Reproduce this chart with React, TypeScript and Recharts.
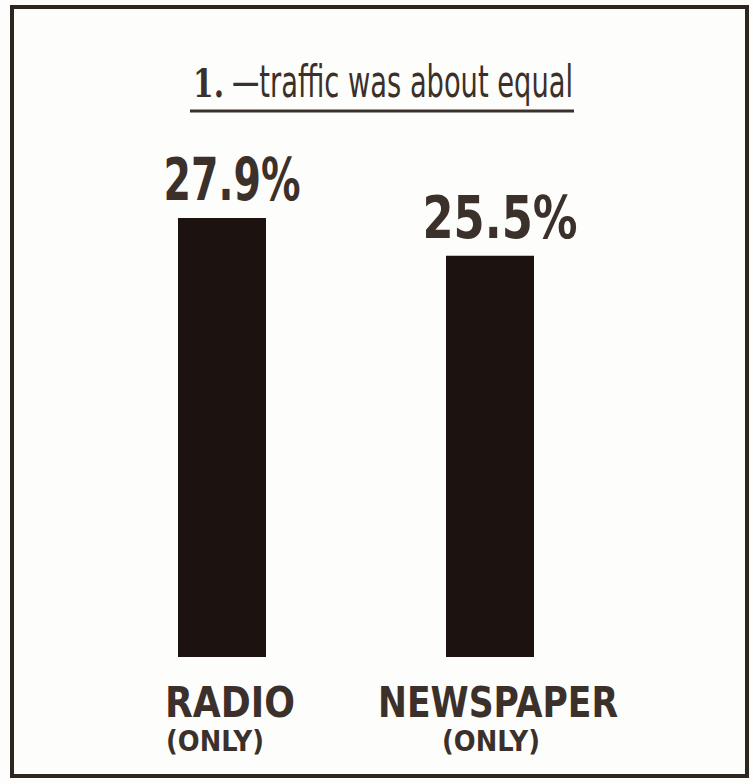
import React from "react";
import { BarChart, Bar, XAxis, YAxis, LabelList } from "recharts";

// media shares of traffic
const categories = ["RADIO", "NEWSPAPER"];
const subLabels = ["(ONLY)", "(ONLY)"];
const shares = [27.9, 25.5];
const valueLabels = ["27.9%", "25.5%"];

const data = categories.map((name, i) => ({
  name,
  sub: subLabels[i],
  value: shares[i],
  label: valueLabels[i],
}));

const INK = "#3b302a";
const BAR = "#1c120f";

const CategoryTick = (props: any) => {
  const { x, y, payload, index } = props;
  const item = data[index];
  const mainW = item.name.length > 6 ? 240 : 130;
  const subDx = item.name.length > 6 ? 0 : -8;
  return (
    <g>
      <text
        x={x + 8}
        y={y + 52}
        textAnchor="middle"
        fill={INK}
        fontFamily="'DejaVu Sans', sans-serif"
        fontWeight="bold"
        fontSize={42}
        textLength={mainW}
        lengthAdjust="spacingAndGlyphs"
      >
        {payload.value}
      </text>
      <text
        x={x + subDx + 1}
        y={y + 86}
        textAnchor="middle"
        fill={INK}
        fontFamily="'DejaVu Sans', sans-serif"
        fontWeight="bold"
        fontSize={28}
        textLength={98}
        lengthAdjust="spacingAndGlyphs"
      >
        {item.sub}
      </text>
    </g>
  );
};

const ValueLabel = (props: any) => {
  const { x, y, width, index } = props;
  const w = index === 0 ? 137 : 155;
  return (
    <text
      x={x + width / 2 + 10}
      y={y - 18}
      textAnchor="middle"
      fill={INK}
      fontFamily="'DejaVu Sans', sans-serif"
      fontWeight="bold"
      fontSize={58}
      textLength={w}
      lengthAdjust="spacingAndGlyphs"
    >
      {data[index].label}
    </text>
  );
};

export default function App() {
  return (
    <div
      style={{
        position: "absolute",
        left: 0,
        top: 0,
        width: 753,
        height: 784,
        background: "#fdfdfb",
      }}
    >
      <svg
        width={753}
        height={784}
        style={{ position: "absolute", left: 0, top: 0 }}
      >
        <rect
          x={12}
          y={7}
          width={735}
          height={769}
          fill="none"
          stroke="#2e2420"
          strokeWidth={4}
        />
        <text
          x={193}
          y={97}
          fill={INK}
          fontFamily="'DejaVu Serif', serif"
          fontWeight="bold"
          fontSize={40}
          textLength={31}
          lengthAdjust="spacingAndGlyphs"
        >
          1.
        </text>
        <text
          x={232}
          y={97}
          fill={INK}
          fontFamily="'Liberation Sans Narrow', 'DejaVu Sans Condensed', sans-serif"
          fontSize={44}
          textLength={341}
          lengthAdjust="spacingAndGlyphs"
        >
          —traffic was about equal
        </text>
        <line x1={190} y1={111} x2={574} y2={111} stroke={INK} strokeWidth={3} />
      </svg>
      <div style={{ position: "absolute", left: 0, top: 0 }}>
        <BarChart
          width={753}
          height={784}
          data={data}
          margin={{ top: 185, right: 129, bottom: 0, left: 88 }}
          barSize={88}
        >
          <YAxis hide domain={[0, 30]} />
          <XAxis
            dataKey="name"
            axisLine={false}
            tickLine={false}
            height={127}
            tick={<CategoryTick />}
            interval={0}
          />
          <Bar dataKey="value" fill={BAR} isAnimationActive={false}>
            <LabelList dataKey="label" content={<ValueLabel />} />
          </Bar>
        </BarChart>
      </div>
    </div>
  );
}
